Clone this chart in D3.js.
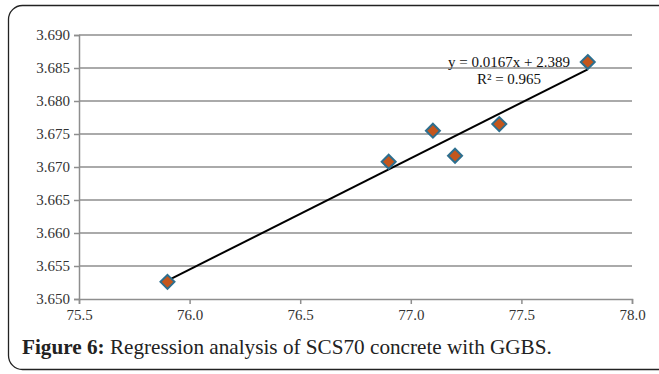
<!DOCTYPE html>
<html>
<head>
<meta charset="utf-8">
<script src="https://cdn.jsdelivr.net/npm/d3@7"></script>
<style>
  body { margin: 0; background: #fff; }
  svg text { font-family: "Liberation Serif", "Times New Roman", serif; }
</style>
</head>
<body>
<script>
// Data
var xValues = [75.9, 76.9, 77.1, 77.2, 77.4, 77.8];
var yValues = [3.6526, 3.6708, 3.6755, 3.6717, 3.6765, 3.6859];
var xTicks = [75.5, 76.0, 76.5, 77.0, 77.5, 78.0];
var yTicks = [3.650, 3.655, 3.660, 3.665, 3.670, 3.675, 3.680, 3.685, 3.690];
var equationLines = ["y = 0.0167x + 2.389", "R\u00b2 = 0.965"];
var captionBold = "Figure 6:";
var captionText = " Regression analysis of SCS70 concrete with GGBS.";

var svgWidth = 659;
var svgHeight = 374;
var serif = "'Liberation Serif', 'Times New Roman', serif";

var chartMargin = { top: 35, right: 27, bottom: 75, left: 79 };
var chartWidth = svgWidth - chartMargin.left - chartMargin.right;
var chartHeight = svgHeight - chartMargin.top - chartMargin.bottom;

var svg = d3.select("body")
  .append("svg")
  .attr("width", svgWidth)
  .attr("height", svgHeight)
  .attr("font-family", serif);

// rounded frame around the figure
svg.append("rect")
  .attr("x", 8.5)
  .attr("y", 5.5)
  .attr("width", 665)
  .attr("height", 364)
  .attr("rx", 14)
  .attr("fill", "none")
  .attr("stroke", "#222")
  .attr("stroke-width", 1.3);

var chartGroup = svg.append("g")
  .attr("transform", `translate(${chartMargin.left}, ${chartMargin.top})`);

var xScale = d3.scaleLinear()
  .domain([75.5, 78.0])
  .range([0, chartWidth]);

var yScale = d3.scaleLinear()
  .domain([3.650, 3.690])
  .range([chartHeight, 0]);

// horizontal gridlines
chartGroup.selectAll(".grid")
  .data(yTicks.slice(1))
  .enter()
  .append("line")
  .attr("class", "grid")
  .attr("x1", 0)
  .attr("x2", chartWidth)
  .attr("y1", d => yScale(d))
  .attr("y2", d => yScale(d))
  .attr("stroke", "#8e8e8e")
  .attr("stroke-width", 1.5);

var leftAxis = d3.axisLeft(yScale)
  .tickValues(yTicks)
  .tickFormat(d3.format(".3f"))
  .tickSize(5)
  .tickPadding(4);

var bottomAxis = d3.axisBottom(xScale)
  .tickValues(xTicks)
  .tickFormat(d3.format(".1f"))
  .tickSize(5)
  .tickPadding(5);

var gLeft = chartGroup.append("g")
  .attr("class", "leftAxis")
  .call(leftAxis);

var gBottom = chartGroup.append("g")
  .attr("class", "bottomAxis")
  .attr("transform", `translate(0, ${chartHeight})`)
  .call(bottomAxis);

[gLeft, gBottom].forEach(function (g) {
  g.attr("font-family", serif).attr("font-size", 15);
  g.select(".domain").attr("stroke", "#8e8e8e").attr("stroke-width", 1.5);
  g.selectAll(".tick line").attr("stroke", "#8e8e8e").attr("stroke-width", 1.5);
  g.selectAll(".tick text").attr("fill", "#333");
});

// least squares trend line computed from the points
var mx = d3.mean(xValues);
var my = d3.mean(yValues);
var sxy = d3.sum(xValues, (x, i) => (x - mx) * (yValues[i] - my));
var sxx = d3.sum(xValues, x => (x - mx) * (x - mx));
var slope = sxy / sxx;
var intercept = my - slope * mx;
var xExtent = d3.extent(xValues);

chartGroup.append("line")
  .attr("x1", xScale(xExtent[0]))
  .attr("y1", yScale(slope * xExtent[0] + intercept))
  .attr("x2", xScale(xExtent[1]))
  .attr("y2", yScale(slope * xExtent[1] + intercept))
  .attr("stroke", "#000")
  .attr("stroke-width", 2);

// diamond markers
var points = xValues.map((x, i) => ({ x: x, y: yValues[i] }));
chartGroup.selectAll(".marker")
  .data(points)
  .enter()
  .append("path")
  .attr("class", "marker")
  .attr("transform", d => `translate(${xScale(d.x)}, ${yScale(d.y)})`)
  .attr("d", "M0,-7L7,0L0,7L-7,0Z")
  .attr("fill", "#c4561c")
  .attr("stroke", "#2d6f8f")
  .attr("stroke-width", 2);

// equation label
chartGroup.selectAll(".eq")
  .data(equationLines)
  .enter()
  .append("text")
  .attr("class", "eq")
  .attr("x", 430)
  .attr("y", (d, i) => 32 + i * 17)
  .attr("text-anchor", "middle")
  .attr("font-size", 15)
  .attr("fill", "#111")
  .text(d => d);

// caption
var caption = svg.append("text")
  .attr("x", 22)
  .attr("y", 354)
  .attr("font-size", 21.2)
  .attr("fill", "#222");
caption.append("tspan").attr("font-weight", "bold").text(captionBold);
caption.append("tspan").text(captionText);
</script>
</body>
</html>
